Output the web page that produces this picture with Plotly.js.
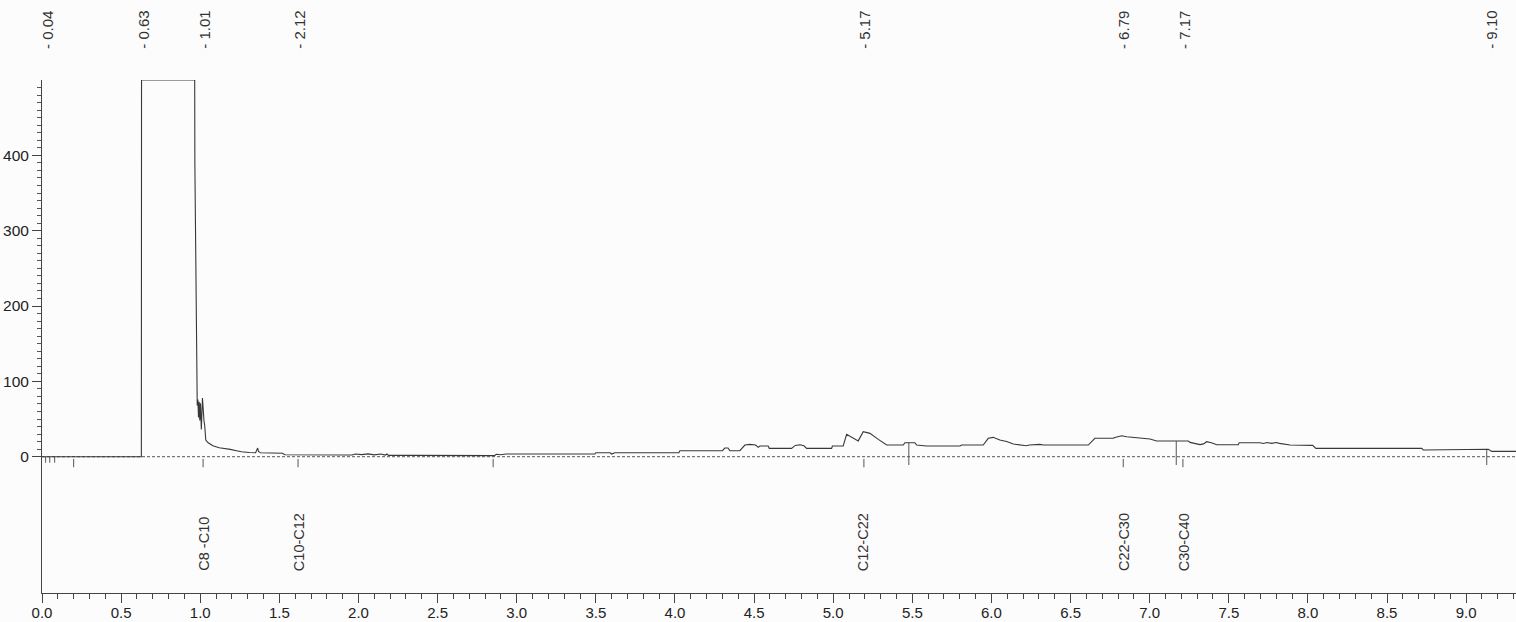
<!DOCTYPE html>
<html>
<head>
<meta charset="utf-8">
<script src="https://cdn.plot.ly/plotly-3.0.1.min.js"></script>
<style>
  html, body { margin: 0; padding: 0; background: #fcfcfc; }
  #chart { width: 1516px; height: 622px; }
</style>
</head>
<body>
<div id="chart"></div>
<script>
// ---- data (retention time in min, detector signal) ----
const times = [
  0, 0.628, 0.629, 0.965, 0.966, 0.968, 0.971, 0.974, 0.977, 0.981, 0.985, 0.989,
  0.993, 0.997, 1.001, 1.007, 1.014, 1.019, 1.024, 1.028, 1.035, 1.05, 1.08, 1.12,
  1.16, 1.19, 1.23, 1.26, 1.31, 1.35, 1.363, 1.368, 1.38, 1.52, 1.535, 1.96, 1.98,
  2.02, 2.06, 2.1, 2.14, 2.17, 2.18, 2.19, 2.34, 2.86, 2.87, 2.9, 2.93, 3.494, 3.5,
  3.59, 3.6, 3.62, 4.025, 4.031, 4.3, 4.315, 4.335, 4.347, 4.41, 4.442, 4.473, 4.51,
  4.526, 4.537, 4.589, 4.596, 4.737, 4.76, 4.79, 4.815, 4.832, 4.99, 4.995, 5.063,
  5.085, 5.12, 5.158, 5.19, 5.232, 5.285, 5.338, 5.443, 5.453, 5.516, 5.527, 5.59,
  5.801, 5.812, 5.948, 5.98, 6.011, 6.053, 6.096, 6.138, 6.201, 6.22, 6.24, 6.306,
  6.33, 6.37, 6.612, 6.654, 6.77, 6.78, 6.823, 6.855, 6.918, 7.002, 7.044, 7.244,
  7.255, 7.318, 7.34, 7.36, 7.39, 7.424, 7.56, 7.566, 7.697, 7.72, 7.74, 7.77, 7.8,
  7.82, 7.887, 8.03, 8.05, 8.719, 8.73, 9.12, 9.14, 9.162, 9.315
];
const signal = [
  0, 0, 500, 500, 390, 340, 200, 182, 110, 68, 76, 52,
  73, 48, 71, 36, 78, 50, 47, 42, 22, 18.5, 14.5, 12,
  11, 9.7, 8, 6.5, 5.5, 5.3, 11.5, 7, 5.3, 4.5, 2.5, 2.2, 3.5,
  2.8, 3.8, 2.5, 3.5, 2.2, 3.6, 1.8, 1.8, 1.5, 3.2, 2.6, 3.6, 3.6, 5.3,
  5.3, 3.6, 5.3, 5.3, 8, 8, 11.5, 11.5, 8, 8, 15.5, 16.4, 15.5,
  12.4, 14.2, 14.2, 11.1, 11.1, 15, 15.8, 14.5, 11.1, 11.1, 14.2, 14.2,
  29.7, 25, 21, 33.2, 31, 23, 15.5, 15.5, 18.6, 18.6, 15.5, 14.2,
  14.2, 15.5, 15.5, 24.4, 25.7, 22.1, 20.2, 16.8, 15.5, 14.5, 15.5, 16.4,
  15.5, 15.5, 15.5, 24.4, 24.4, 25.5, 27.9, 26.5, 25.2, 23.5, 20.8, 20.8,
  19, 16, 17, 19.9, 18.5, 15.9, 15.9, 18.6, 18.6, 17.5, 18.8, 17.7, 18.8,
  17.7, 15.5, 15.1, 11.1, 11.1, 8.9, 8.9, 9.8, 7.1, 7.1
];

// peak / integration event marks below the baseline
const eventTimes = [0.023, 0.049, 0.080, 0.2, 1.018, 1.618, 2.851, 5.194, 5.478, 6.833, 7.168, 7.21, 9.13];
const eventLong  = [false, false, false, false, false, false, false, false, true, false, true, false, true];

// retention-time labels along the top
const rtLabels    = ["0.04", "0.63", "1.01", "2.12", "5.17", "6.79", "7.17", "9.10"];
const rtLabelAt   = [0.038, 0.643, 1.028, 1.629, 5.20, 6.838, 7.223, 9.162];

// carbon-range labels
const rangeLabels  = ["C8 -C10", "C10-C12", "C12-C22", "C22-C30", "C30-C40"];
const rangeLabelAt = [1.022, 1.625, 5.19, 6.838, 7.219];

// axis ticks
const xMax = 9.315;
const yMajor = [0, 100, 200, 300, 400];

// ---- build ----
function interp(t) {
  for (let i = 1; i < times.length; i++) {
    if (times[i] >= t) {
      const f = (t - times[i-1]) / (times[i] - times[i-1]);
      return signal[i-1] + f * (signal[i] - signal[i-1]);
    }
  }
  return signal[signal.length - 1];
}
const ex = [], ey = [];
eventTimes.forEach((t, i) => {
  if (eventLong[i]) { ex.push(t, t, null); ey.push(interp(t), -11, null); }
  else if (t < 0.15) { ex.push(t, t, null); ey.push(0, -8, null); }
  else { ex.push(t, t, null); ey.push(-3, -14, null); }
});

const yMinor = [];
for (let v = 10; v < 500; v += 10) if (v % 100 !== 0) yMinor.push(v);

const LINE = '#383838';
const FONT = 'Liberation Sans, Arial, sans-serif';

const traces = [
  { x: [0, xMax], y: [0, 0], mode: 'lines', line: { color: '#555', width: 1, dash: '3px,2px' }, hoverinfo: 'skip' },
  { x: ex, y: ey, mode: 'lines', line: { color: '#555', width: 1 }, hoverinfo: 'skip' },
  { x: times, y: signal, mode: 'lines', line: { color: LINE, width: 1.1 } }
];

const annotations = [];
rtLabels.forEach((s, i) => annotations.push({
  x: rtLabelAt[i], xref: 'x', y: (593 - 50) / 513, yref: 'paper',
  text: '- ' + s, textangle: -90, showarrow: false, xanchor: 'center', yanchor: 'bottom',
  borderpad: 0, font: { family: FONT, size: 15, color: '#333' }
}));
rangeLabels.forEach((s, i) => annotations.push({
  x: rangeLabelAt[i], xref: 'x', y: (593 - 572) / 513, yref: 'paper',
  text: s, textangle: -90, showarrow: false, xanchor: 'center', yanchor: 'bottom',
  borderpad: 0, font: { family: FONT, size: 14.5, color: '#333' }
}));

const layout = {
  width: 1516, height: 622,
  margin: { l: 42, r: 0, t: 80, b: 29 },
  paper_bgcolor: '#fcfcfc', plot_bgcolor: '#fcfcfc',
  showlegend: false,
  xaxis: {
    range: [0, xMax], tickmode: 'linear', tick0: 0, dtick: 0.5, tickformat: '.1f',
    ticks: 'outside', ticklen: 9, tickwidth: 1, tickcolor: '#444',
    showline: true, linecolor: '#444', linewidth: 1,
    showgrid: false, zeroline: false, ticklabelstandoff: -3,
    tickfont: { family: FONT, size: 15, color: '#222' },
    minor: { tick0: 0, dtick: 0.1, ticks: 'outside', ticklen: 5, tickcolor: '#444', showgrid: false }
  },
  yaxis: {
    range: [-180.9, 500], tickmode: 'array', tickvals: yMajor,
    ticks: 'outside', ticklen: 9, tickwidth: 1, tickcolor: '#444',
    showline: true, linecolor: '#444', linewidth: 1,
    showgrid: false, zeroline: false,
    tickfont: { family: FONT, size: 15.5, color: '#222' },
    minor: { tickmode: 'array', tickvals: yMinor, ticks: 'outside', ticklen: 4, tickcolor: '#555', showgrid: false }
  },
  annotations: annotations
};

Plotly.newPlot('chart', traces, layout, { displayModeBar: false, staticPlot: true });
</script>
</body>
</html>
